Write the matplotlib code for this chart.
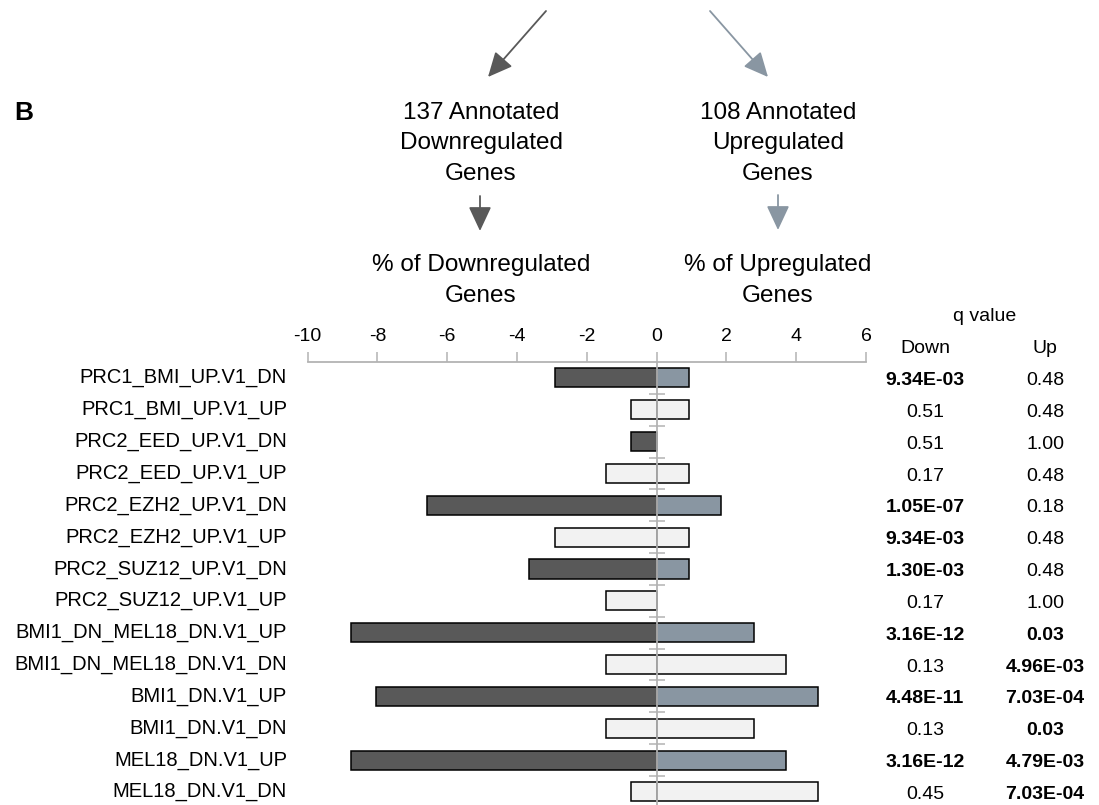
import matplotlib
matplotlib.use("Agg")
import matplotlib.pyplot as plt
from matplotlib.patches import FancyArrowPatch

plt.rcParams['font.family'] = ['Liberation Sans', 'DejaVu Sans']
plt.rcParams['axes.unicode_minus'] = False

# gene sets (top to bottom)
gene_sets = ['PRC1_BMI_UP.V1_DN', 'PRC1_BMI_UP.V1_UP',
             'PRC2_EED_UP.V1_DN', 'PRC2_EED_UP.V1_UP',
             'PRC2_EZH2_UP.V1_DN', 'PRC2_EZH2_UP.V1_UP',
             'PRC2_SUZ12_UP.V1_DN', 'PRC2_SUZ12_UP.V1_UP',
             'BMI1_DN_MEL18_DN.V1_UP', 'BMI1_DN_MEL18_DN.V1_DN',
             'BMI1_DN.V1_UP', 'BMI1_DN.V1_DN',
             'MEL18_DN.V1_UP', 'MEL18_DN.V1_DN']
# % of downregulated / upregulated genes
pct_down = [2.92, 0.73, 0.73, 1.46, 6.57, 2.92, 3.65, 1.46, 8.76, 1.46, 8.03, 1.46, 8.76, 0.73]
pct_up = [0.93, 0.93, 0.0, 0.93, 1.85, 0.93, 0.93, 0.0, 2.78, 3.70, 4.63, 2.78, 3.70, 4.63]
q_down = ['9.34E-03', '0.51', '0.51', '0.17', '1.05E-07', '9.34E-03', '1.30E-03',
          '0.17', '3.16E-12', '0.13', '4.48E-11', '0.13', '3.16E-12', '0.45']
q_up = ['0.48', '0.48', '1.00', '0.48', '0.18', '0.48', '0.48',
        '1.00', '0.03', '4.96E-03', '7.03E-04', '0.03', '4.79E-03', '7.03E-04']
highlight = [True, False] * 7

DARK = '#595959'
SLATE = '#8996A2'
LIGHT = '#F2F2F2'
GRID = '#B3B3B3'

W, H = 1099, 805
fig = plt.figure(figsize=(W / 100, H / 100), dpi=100)


def fx(px):
    return px / W


def fy(py):
    return 1 - py / H


ax = fig.add_axes([fx(307.7), 0, fx(866) - fx(307.7), fy(362)])

rows = list(range(len(gene_sets)))
down_col = [DARK if h else LIGHT for h in highlight]
up_col = [SLATE if h else LIGHT for h in highlight]
ax.barh(rows, [-v for v in pct_down], height=0.6, color=down_col,
        edgecolor='black', linewidth=1.1, zorder=1)
ax.barh(rows, pct_up, height=0.6, color=up_col,
        edgecolor='black', linewidth=1.1, zorder=1)

ax.set_xlim(-10, 6)
ax.set_ylim(13.41, -0.5)
ax.set_xticks(range(-10, 7, 2))
ax.xaxis.tick_top()
ax.tick_params(axis='x', direction='out', length=7, color=GRID, width=1.1,
               labelsize=14, pad=5)
ax.set_yticks([r + 0.5 for r in rows[:-1]])
ax.set_yticklabels([])
ax.tick_params(axis='y', direction='inout', length=12, color=GRID, width=1.1)
ax.spines['left'].set_position(('data', 0))
ax.spines['left'].set_color(GRID)
ax.spines['left'].set_linewidth(1.3)
ax.spines['left'].set_zorder(3)
ax.spines['top'].set_color(GRID)
ax.spines['top'].set_linewidth(1.3)
ax.spines['right'].set_visible(False)
ax.spines['bottom'].set_visible(False)
ax.patch.set_visible(False)

ytr = ax.get_yaxis_transform()
x_down = (925 - 307.7) / (866 - 307.7)
x_up = (1045 - 307.7) / (866 - 307.7)
for r in rows:
    ax.text(-0.037, r, gene_sets[r], transform=ytr, ha='right', va='center',
            fontsize=14.5)
    ax.text(x_down, r + 0.08, q_down[r], transform=ytr, ha='center', va='center',
            fontsize=14, fontweight='bold' if float(q_down[r]) < 0.05 else 'normal')
    ax.text(x_up, r + 0.08, q_up[r], transform=ytr, ha='center', va='center',
            fontsize=14, fontweight='bold' if float(q_up[r]) < 0.05 else 'normal')

fig.text(fx(985), fy(316), 'q value', ha='center', va='center', fontsize=14)
fig.text(fx(925), fy(348), 'Down', ha='center', va='center', fontsize=14)
fig.text(fx(1045), fy(348), 'Up', ha='center', va='center', fontsize=14)

# header
fig.text(fx(24), fy(113), 'B', ha='center', va='center', fontsize=19, fontweight='bold')

left_lines = ['137 Annotated', 'Downregulated', 'Genes']
right_lines = ['108 Annotated', 'Upregulated', 'Genes']
for i, (l, r) in enumerate(zip(left_lines, right_lines)):
    fig.text(fx(481), fy(113 + i * 30.5), l, ha='center', va='center', fontsize=17.5)
    fig.text(fx(778), fy(113 + i * 30.5), r, ha='center', va='center', fontsize=17.5)

for i, (l, r) in enumerate(zip(['% of Downregulated', 'Genes'],
                               ['% of Upregulated', 'Genes'])):
    fig.text(fx(481), fy(265 + i * 31), l, ha='center', va='center', fontsize=17.5)
    fig.text(fx(778), fy(265 + i * 31), r, ha='center', va='center', fontsize=17.5)


def arrow(x0, y0, x1, y1, color):
    fig.add_artist(FancyArrowPatch((fx(x0), fy(y0)), (fx(x1), fy(y1)),
                                   transform=fig.transFigure,
                                   arrowstyle='-|>,head_length=0.75,head_width=0.35',
                                   mutation_scale=20, color=color, lw=1.3,
                                   shrinkA=0, shrinkB=0))


arrow(546, 11, 488, 77, DARK)
arrow(710, 11, 768, 77, SLATE)
arrow(480, 196, 480, 231, DARK)
arrow(778, 195, 778, 230, SLATE)

fig.savefig('out.png', dpi=100)
